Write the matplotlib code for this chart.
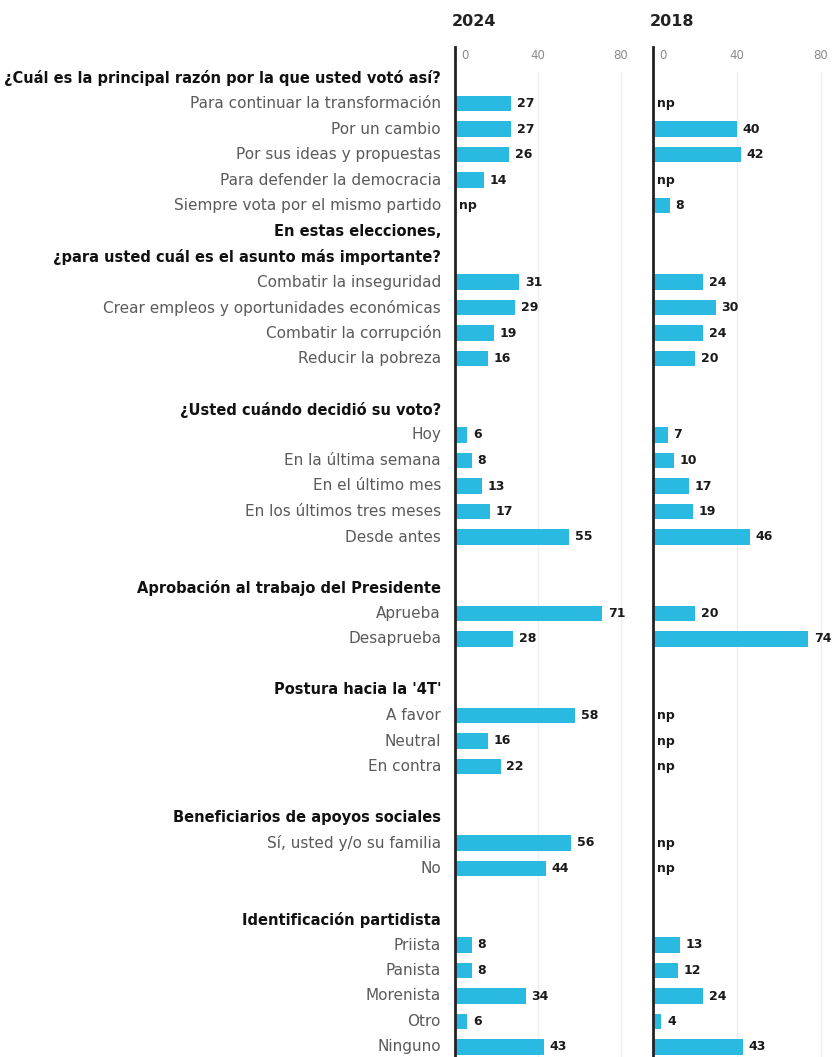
import matplotlib
matplotlib.use("Agg")
import matplotlib.pyplot as plt
from matplotlib.transforms import blended_transform_factory

plt.rcParams['font.family'] = ['DejaVu Sans']

# Secciones de la encuesta
headers = [
    ["¿Cuál es la principal razón por la que usted votó así?"],
    ["En estas elecciones,", "¿para usted cuál es el asunto más importante?"],
    ["¿Usted cuándo decidió su voto?"],
    ["Aprobación al trabajo del Presidente"],
    ["Postura hacia la '4T'"],
    ["Beneficiarios de apoyos sociales"],
    ["Identificación partidista"],
]
items = [
    ["Para continuar la transformación", "Por un cambio", "Por sus ideas y propuestas",
     "Para defender la democracia", "Siempre vota por el mismo partido"],
    ["Combatir la inseguridad", "Crear empleos y oportunidades económicas",
     "Combatir la corrupción", "Reducir la pobreza"],
    ["Hoy", "En la última semana", "En el último mes", "En los últimos tres meses", "Desde antes"],
    ["Aprueba", "Desaprueba"],
    ["A favor", "Neutral", "En contra"],
    ["Sí, usted y/o su familia", "No"],
    ["Priista", "Panista", "Morenista", "Otro", "Ninguno"],
]
# None = np (no preguntado)
v2024 = [
    [27, 27, 26, 14, None],
    [31, 29, 19, 16],
    [6, 8, 13, 17, 55],
    [71, 28],
    [58, 16, 22],
    [56, 44],
    [8, 8, 34, 6, 43],
]
v2018 = [
    [None, 40, 42, None, 8],
    [24, 30, 24, 20],
    [7, 10, 17, 19, 46],
    [20, 74],
    [None, None, None],
    [None, None],
    [13, 12, 24, 4, 43],
]
blank_before = [0, 0, 1, 1, 1, 1, 1]
years = ["2024", "2018"]
ticks = [0, 40, 80]

W, H = 833, 1057
fig = plt.figure(figsize=(W / 100, H / 100), dpi=100)
fig.patch.set_facecolor("white")

# construir filas
row_y = 0
head_rows = []   # (y, texto)
item_rows = []   # (y, texto, v24, v18)
for s in range(len(headers)):
    row_y += blank_before[s]
    for h in headers[s]:
        head_rows.append((row_y, h))
        row_y += 1
    for lab, a, b in zip(items[s], v2024[s], v2018[s]):
        item_rows.append((row_y, lab, a, b))
        row_y += 1
nrows = row_y

# geometría en pixeles
y0 = 78.0
dy = 25.5
top_px = 47
ytop = (y0 - top_px) / dy
ybot = nrows - 1 + (H - (y0 + dy * (nrows - 1))) / dy

bar_color = "#2AB9E0"
panels = [(455, 2.075, 90), (653, 2.1, 85)]
axes = []
for k, (left, ppu, xmax) in enumerate(panels):
    ax = fig.add_axes([left / W, 0, ppu * xmax / W, (H - top_px) / H])
    ax.set_xlim(0, xmax)
    ax.set_ylim(ybot, -ytop)
    for sp in ["top", "right", "bottom"]:
        ax.spines[sp].set_visible(False)
    ax.spines["left"].set_linewidth(2)
    ax.spines["left"].set_color("#222222")
    ax.set_xticks([])
    ax.set_yticks([])
    ax.patch.set_alpha(0)
    for t in ticks[1:]:
        ax.axvline(t, ymin=0, ymax=0.975, color="#eeeeee", lw=1, zorder=0)
    for t in ticks:
        ax.text(t + (3 if t == 0 else 0), -ytop + 0.35, str(t), ha="left" if t == 0 else "center",
                va="center", fontsize=8.5, color="#8a8a8a")
    fig.text(left / W - 0.004, 1 - 22 / H, years[k], ha="left", va="center",
             fontsize=11.5, fontweight="bold", color="#222222")
    ys = [r[0] for r in item_rows]
    vals = [r[2 + k] for r in item_rows]
    ax.barh([y for y, v in zip(ys, vals) if v is not None],
            [v for v in vals if v is not None], height=0.62, color=bar_color, zorder=2)
    for y, v in zip(ys, vals):
        if v is None:
            ax.text(2, y, "np", ha="left", va="center", fontsize=9,
                    fontweight="bold", color="#1a1a1a")
        else:
            ax.annotate(str(v), (v, y), xytext=(4, 0), textcoords="offset points",
                        ha="left", va="center", fontsize=9, fontweight="bold",
                        color="#1a1a1a", annotation_clip=False)
    axes.append(ax)

tr = blended_transform_factory(fig.transFigure, axes[0].transData)
lx = 441 / W
for y, h in head_rows:
    fig.text(lx, y, h, transform=tr, ha="right", va="center", fontsize=10.5,
             fontweight="bold", color="#111111")
for y, lab, a, b in item_rows:
    fig.text(lx, y, lab, transform=tr, ha="right", va="center", fontsize=11,
             color="#5a5a5a")

fig.savefig("out.png", dpi=100)
